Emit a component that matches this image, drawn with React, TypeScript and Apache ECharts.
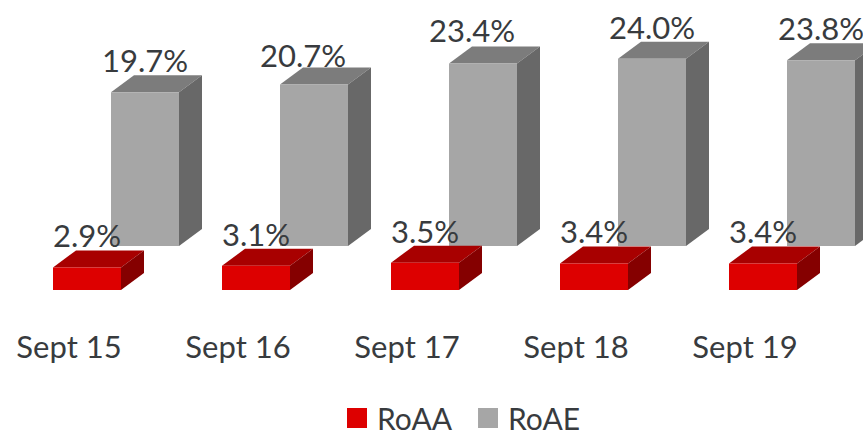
import React, { useEffect, useRef } from "react";
import * as echarts from "echarts";

const categories = ["Sept 15", "Sept 16", "Sept 17", "Sept 18", "Sept 19"];
const roaa = [2.9, 3.1, 3.5, 3.4, 3.4];
const roae = [19.7, 20.7, 23.4, 24.0, 23.8];

const FONT = 'Lato, "Open Sans", sans-serif';
const TEXT = "#383b3e";
const DX = 23;
const DY = 17;
const W = 68;
const NO_NUDGE = [[0, 0], [0, 0], [0, 0], [0, 0], [0, 0]];
const ROAE_LABEL_NUDGE = [[0, 0], [-11, 2], [-11, -1], [0, 0], [0, 0]];

function bar3d(
  offsetX: number,
  baseShift: number,
  labelGap: number,
  nudge: number[][],
  front: string,
  top: string,
  side: string
) {
  return (params: any, api: any) => {
    const cat = api.value(0);
    const v = api.value(1);
    const base = api.coord([cat, 0]);
    const head = api.coord([cat, v]);
    const x0 = base[0] + offsetX;
    const x1 = x0 + W;
    const yb = base[1] - baseShift;
    const yt = head[1] - baseShift;
    const poly = (points: number[][], fill: string) => ({
      type: "polygon",
      shape: { points },
      style: { fill },
    });
    const [nx, ny] = nudge[params.dataIndex];
    return {
      type: "group",
      children: [
        poly([[x0, yt], [x1, yt], [x1 + DX, yt - DY], [x0 + DX, yt - DY]], top),
        poly([[x1, yt], [x1 + DX, yt - DY], [x1 + DX, yb - DY], [x1, yb]], side),
        poly([[x0, yt], [x1, yt], [x1, yb], [x0, yb]], front),
        {
          type: "text",
          style: {
            text: v.toFixed(1) + "%",
            x: (x0 + x1) / 2 + nx,
            y: yt - DY - labelGap + ny,
            align: "center",
            verticalAlign: "middle",
            font: `31px ${FONT}`,
            fill: TEXT,
          },
        },
      ],
    };
  };
}

export default function App() {
  const ref = useRef<HTMLDivElement>(null);
  useEffect(() => {
    const chart = echarts.init(ref.current!, undefined, { renderer: "svg" });
    chart.setOption({
      animation: false,
      backgroundColor: "#fff",
      grid: { left: 69, right: 118, top: 56, bottom: 141 },
      xAxis: {
        type: "category",
        boundaryGap: false,
        data: categories,
        axisLine: { show: false },
        axisTick: { show: false },
        axisLabel: { fontFamily: FONT, fontSize: 31, color: TEXT, margin: 40, interval: 0, showMinLabel: true, showMaxLabel: true },
      },
      yAxis: { type: "value", min: 0, max: 30, show: false, splitLine: { show: false } },
      legend: {
        left: 347,
        top: 403,
        padding: 0,
        itemWidth: 20,
        itemHeight: 20,
        itemGap: 26,
        icon: "rect",
        selectedMode: false,
        textStyle: { fontFamily: FONT, fontSize: 30, color: TEXT, padding: [0, 0, 0, 5] },
        data: ["RoAA", "RoAE"],
      },
      series: [
        {
          name: "RoAE",
          type: "custom",
          itemStyle: { color: "#a6a6a6" },
          encode: { x: 0, y: 1 },
          data: roae.map((v, i) => [i, v]),
          renderItem: bar3d(42, 44, 15, ROAE_LABEL_NUDGE, "#a6a6a6", "#7c7c7c", "#686868"),
        },
        {
          name: "RoAA",
          type: "custom",
          itemStyle: { color: "#dd0000" },
          encode: { x: 0, y: 1 },
          data: roaa.map((v, i) => [i, v]),
          renderItem: bar3d(-16, 0, 15, NO_NUDGE, "#dd0000", "#a80000", "#850000"),
        },
      ],
    });
    return () => chart.dispose();
  }, []);
  return <div ref={ref} style={{ position: "fixed", left: 0, top: 0, width: 863, height: 431 }} />;
}
